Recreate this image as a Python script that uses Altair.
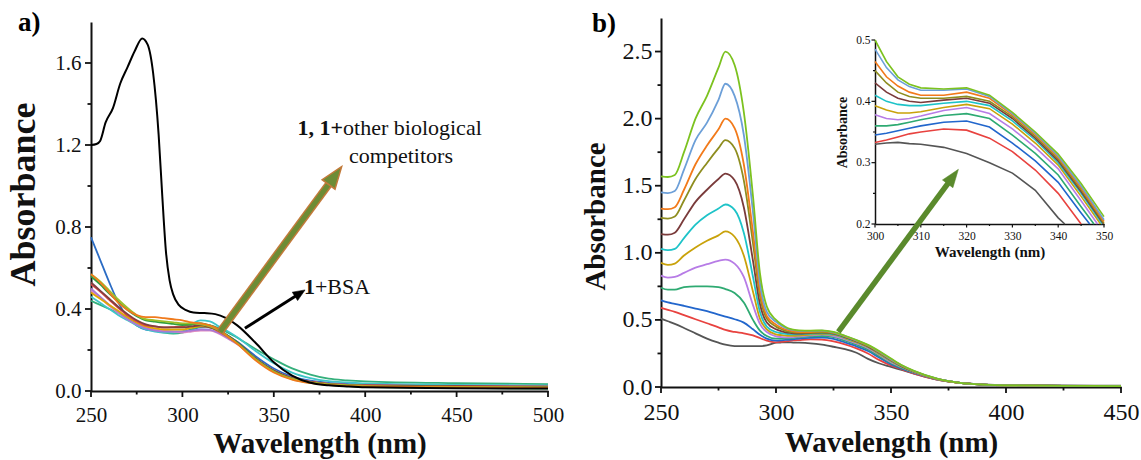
import math
import altair as alt
import pandas as pd

FONT = "Liberation Serif, Times New Roman, serif"
W, H = 1141, 460

# ---------------- panel a data ----------------
A_NM_BLACK = [250, 253, 255, 258, 262, 266, 270, 274, 278, 281, 284, 287, 289, 291, 293, 295, 298,
              302, 306, 312, 318, 324, 330, 340, 350, 360, 370, 380, 390, 400, 450, 500]
A_BLACK = [1.20, 1.205, 1.22, 1.31, 1.38, 1.50, 1.58, 1.66, 1.72, 1.69, 1.55, 1.25, 0.95, 0.68, 0.54, 0.47, 0.42,
           0.395, 0.383, 0.38, 0.375, 0.355, 0.32, 0.235, 0.14, 0.075, 0.04, 0.028, 0.022, 0.018, 0.014, 0.012]

A_NM = [250, 255, 260, 265, 270, 275, 280, 285, 290, 295, 300, 305, 310, 315, 320, 325, 330,
        340, 350, 360, 370, 380, 390, 400, 450, 500]
A_BLUE = [.75, .64, .53, .43, .36, .32, .30, .295, .29, .29, .29, .30, .31, .31, .295, .27, .24,
          .17, .11, .07, .05, .04, .035, .03, .025, .02]
A_TEAL = [.44, .42, .40, .38, .355, .33, .31, .295, .285, .28, .285, .30, .315, .32, .305, .285, .26,
          .205, .155, .11, .08, .06, .052, .047, .038, .034]
A_ORANGE = [.57, .53, .48, .43, .395, .37, .36, .36, .355, .35, .345, .335, .33, .32, .30, .265, .23,
            .15, .09, .055, .038, .03, .025, .022, .018, .015]
A_YELLOWGREEN = [.57, .535, .49, .445, .405, .37, .35, .345, .34, .335, .33, .33, .325, .315, .295, .265, .232,
                 .155, .095, .06, .042, .033, .028, .025, .02, .018]
A_BROWN = [.53, .49, .45, .41, .375, .345, .325, .315, .31, .31, .31, .315, .32, .31, .295, .268, .238,
           .16, .10, .063, .045, .035, .03, .027, .024, .02]
A_PURPLE = [.50, .46, .42, .385, .35, .325, .305, .295, .29, .29, .29, .295, .30, .298, .283, .258, .23,
            .158, .10, .064, .046, .036, .031, .028, .024, .02]
A_PINK = [.49, .455, .415, .38, .35, .325, .31, .30, .295, .29, .285, .29, .295, .295, .28, .255, .228,
          .155, .098, .063, .045, .035, .03, .027, .023, .02]
A_GOLD = [.48, .45, .42, .39, .36, .335, .315, .305, .30, .30, .30, .308, .315, .31, .29, .263, .233,
          .157, .098, .062, .044, .034, .029, .026, .022, .019]
A_GREEN = [.56, .52, .475, .435, .395, .365, .345, .338, .332, .327, .322, .325, .33, .32, .30, .268, .236,
           .156, .095, .058, .04, .03, .025, .02, .015, .012]
A_RED = [.52, .485, .445, .405, .37, .34, .32, .315, .31, .312, .315, .325, .33, .315, .29, .263, .233,
         .157, .098, .062, .044, .034, .03, .027, .024, .022]
A_CYAN = [.46, .43, .40, .37, .345, .32, .30, .29, .285, .285, .29, .325, .345, .34, .315, .29, .262,
          .195, .135, .09, .063, .048, .042, .037, .03, .027]

A_SERIES = ["blue", "teal", "cyan", "pink", "purple", "gold", "red", "brown", "green", "yellowgreen", "orange"]
A_ARRAYS = [A_BLUE, A_TEAL, A_CYAN, A_PINK, A_PURPLE, A_GOLD, A_RED, A_BROWN, A_GREEN, A_YELLOWGREEN, A_ORANGE]
A_COLORS = ["#2b6cc4", "#35b07c", "#3ec5c8", "#e08bc0", "#a678d6", "#e0a800", "#e04545", "#804040",
            "#2e9e3e", "#9cbf2a", "#f07a1c"]

# ---------------- panel b data ----------------
B_NM = [250, 253, 256, 260, 265, 270, 275, 278, 282, 286, 290, 293, 296,
        300, 302.5, 305, 307.5, 310, 315, 320, 325, 330, 335, 340, 345, 350,
        355, 360, 370, 380, 390, 400, 425, 450]
B_GRAY = [.51, .49, .47, .44, .40, .36, .33, .315, .305, .305, .305, .305, .31,
          .33, .332, .333, .331, .33, .325, .315, .30, .283, .255, .21, .175, .15,
          .125, .10, .055, .03, .02, .015, .012, .01]
B_RED = [.59, .575, .56, .535, .505, .475, .445, .425, .41, .40, .385, .365, .345,
         .333, .337, .342, .347, .35, .355, .353, .34, .318, .288, .25, .20, .16,
         .13, .10, .055, .03, .018, .012, .009, .007]
B_BLUE = [.645, .63, .62, .605, .585, .565, .54, .525, .505, .48, .43, .39, .36,
          .345, .348, .352, .356, .36, .366, .368, .358, .332, .303, .268, .218, .17,
          .135, .105, .057, .03, .018, .012, .009, .007]
B_GREEN = [.74, .725, .725, .745, .75, .75, .745, .73, .70, .63, .50, .42, .38,
           .36, .36, .362, .366, .37, .377, .38, .372, .345, .315, .28, .228, .178,
           .14, .108, .058, .031, .018, .012, .009, .007]
B_PURPLE = [.83, .815, .82, .85, .89, .915, .94, .95, .92, .82, .61, .47, .41,
            .378, .372, .37, .372, .376, .385, .39, .38, .355, .325, .29, .238, .185,
            .145, .11, .058, .031, .018, .012, .009, .007]
B_GOLD = [.925, .91, .92, .98, 1.04, 1.09, 1.13, 1.16, 1.12, .98, .71, .51, .43,
          .393, .386, .381, .381, .383, .39, .395, .388, .363, .332, .296, .245, .192,
          .148, .112, .059, .031, .018, .012, .009, .007]
B_CYAN = [1.03, 1.02, 1.03, 1.11, 1.21, 1.28, 1.33, 1.36, 1.32, 1.15, .82, .56, .45,
          .41, .40, .395, .393, .393, .397, .40, .393, .368, .337, .30, .25, .196,
          .15, .114, .06, .031, .018, .012, .009, .007]
B_BROWN = [1.14, 1.135, 1.15, 1.25, 1.38, 1.47, 1.55, 1.59, 1.54, 1.34, .94, .62, .48,
           .43, .415, .405, .40, .398, .402, .405, .397, .372, .34, .303, .253, .199,
           .152, .115, .06, .031, .018, .012, .009, .007]
B_OLIVE = [1.26, 1.255, 1.27, 1.39, 1.55, 1.67, 1.78, 1.84, 1.78, 1.54, 1.07, .68, .51,
           .45, .43, .415, .408, .405, .405, .408, .40, .375, .343, .306, .256, .201,
           .154, .116, .061, .031, .018, .012, .009, .007]
B_ORANGE = [1.33, 1.325, 1.34, 1.47, 1.66, 1.80, 1.92, 2.00, 1.93, 1.66, 1.15, .72, .53,
            .465, .44, .425, .415, .41, .41, .415, .405, .378, .346, .309, .259, .204,
            .156, .117, .061, .031, .018, .012, .009, .007]
B_LIGHTBLUE = [1.45, 1.445, 1.46, 1.62, 1.84, 1.97, 2.14, 2.26, 2.17, 1.88, 1.30, .78, .56,
               .485, .455, .435, .424, .418, .418, .42, .408, .38, .348, .311, .262, .207,
               .158, .118, .062, .031, .018, .012, .009, .007]
B_LIME = [1.57, 1.565, 1.58, 1.75, 2.00, 2.17, 2.38, 2.50, 2.40, 2.05, 1.42, .85, .60,
          .50, .465, .44, .428, .422, .42, .422, .41, .382, .35, .314, .266, .212,
          .16, .12, .062, .031, .018, .012, .009, .007]

B_SERIES = ["gray", "red", "blue", "green", "purple", "gold", "cyan", "brown", "olive", "orange",
            "lightblue", "lime"]
B_ARRAYS = [B_GRAY, B_RED, B_BLUE, B_GREEN, B_PURPLE, B_GOLD, B_CYAN, B_BROWN, B_OLIVE, B_ORANGE,
            B_LIGHTBLUE, B_LIME]
B_COLORS = ["#555555", "#e8423f", "#2266cc", "#2eaa72", "#b77ce6", "#c9a20a", "#1ec3c8", "#7a3b3b",
            "#8e8d1f", "#f27a1a", "#6c9fd8", "#7cc21f"]

# tick values
A_X_MAJOR = [250, 300, 350, 400, 450, 500]
A_X_MINOR = [275, 325, 375, 425, 475]
A_Y_MAJOR = [0.0, 0.4, 0.8, 1.2, 1.6]
A_Y_MINOR = [0.2, 0.6, 1.0, 1.4]
B_X_MAJOR = [250, 300, 350, 400, 450]
B_X_MINOR = [275, 325, 375, 425]
B_Y_MAJOR = [0.0, 0.5, 1.0, 1.5, 2.0, 2.5]
B_Y_MINOR = [0.25, 0.75, 1.25, 1.75, 2.25]
I_X_MAJOR = [300, 310, 320, 330, 340, 350]
I_X_MINOR = [305, 315, 325, 335, 345]
I_Y_MAJOR = [0.2, 0.3, 0.4, 0.5]
I_Y_MINOR = [0.25, 0.35, 0.45]

# annotation anchors (data coordinates of their panel)
ARROW_A = [(320.6, 0.289), (387.1, 1.094)]
ARROW_BSA = [(334.2, 0.306), (367.1, 0.493)]
ARROW_B = [(327.1, 0.411), (379.3, 1.622)]
TXT_LINE1 = (387.9, 1.283)
TXT_LINE2 = (419.6, 1.146)
TXT_BSA = (372.5, 0.507)

# ---------------- frames (pixel layout) ----------------
AX = {"domain": [250, 500], "range": [91, 548]}
AY = {"domain": [0, 1.8], "range": [391, 22]}
BX = {"domain": [250, 450], "range": [661, 1121]}
BY = {"domain": [0, 2.75], "range": [387, 18]}
IX = {"domain": [300, 350], "range": [875, 1104]}
IY = {"domain": [0.2, 0.5], "range": [224, 40]}


def sc(p):
    return alt.Scale(domain=p["domain"], range=p["range"], nice=False, zero=False)


def to_px(p, v):
    d0, d1 = p["domain"]
    r0, r1 = p["range"]
    return r0 + (v - d0) / (d1 - d0) * (r1 - r0)


def from_px(p, px):
    d0, d1 = p["domain"]
    r0, r1 = p["range"]
    return d0 + (px - r0) / (r1 - r0) * (d1 - d0)


def major_axis(orient, offset, values, fmt, lsize, title, tsize, lpad, tpad, dw=2, **extra):
    return alt.Axis(
        orient=orient, offset=offset, values=values, title=title, grid=False, format=fmt,
        ticks=False, labelFont=FONT, labelFontSize=lsize,
        labelColor="#111", labelPadding=lpad, labelOverlap=False, labelFlush=False,
        titleFont=FONT, titleFontSize=tsize, titleFontWeight="bold", titleColor="#111",
        titlePadding=tpad, domainColor="#111", domainWidth=dw, **extra
    )


def tick_layer(fx, fy, xmaj, xmin, ymaj, ymin, lmaj, lmin, width):
    """Tick marks drawn outward from the frame's bottom and left edges."""
    bottom = fy["range"][0]
    left = fx["range"][0]
    rows = []
    for vals, ln in ((xmaj, lmaj), (xmin, lmin)):
        for v in vals:
            rows.append({"x": v, "x2": v, "y": from_px(fy, bottom), "y2": from_px(fy, bottom + ln)})
    for vals, ln in ((ymaj, lmaj), (ymin, lmin)):
        for v in vals:
            rows.append({"x": from_px(fx, left), "x2": from_px(fx, left - ln), "y": v, "y2": v})
    return alt.Chart(pd.DataFrame(rows)).mark_rule(color="#111", strokeWidth=width).encode(
        x=alt.X("x:Q", scale=sc(fx), axis=None), y=alt.Y("y:Q", scale=sc(fy), axis=None),
        x2="x2:Q", y2="y2:Q")


def long_df(nm, names, arrays):
    rows = []
    for name, vals in zip(names, arrays):
        for x, v in zip(nm, vals):
            rows.append({"nm": x, "A": v, "series": name})
    return pd.DataFrame(rows)


def inset_df():
    lo = IY["domain"][0]
    rows = []
    for name, vals in zip(B_SERIES, B_ARRAYS):
        pts = [(x, v) for x, v in zip(B_NM, vals) if IX["domain"][0] <= x <= IX["domain"][1]]
        for i, (x, v) in enumerate(pts):
            if v >= lo:
                rows.append({"nm": x, "A": v, "series": name})
            else:
                x0, v0 = pts[i - 1]
                t = (v0 - lo) / (v0 - v)
                rows.append({"nm": x0 + t * (x - x0), "A": lo, "series": name})
                break
    return pd.DataFrame(rows)


def arrow_layers(arrow, fx, fy, head_len, head_w, shaft_styles, head_fill, head_stroke, head_sw):
    (x0, y0), (x1, y1) = arrow
    px0, py0 = to_px(fx, x0), to_px(fy, y0)
    px1, py1 = to_px(fx, x1), to_px(fy, y1)
    dx, dy = px1 - px0, py1 - py0
    ln = math.hypot(dx, dy)
    ux, uy = dx / ln, dy / ln
    ex, ey = px1 - ux * head_len * 0.85, py1 - uy * head_len * 0.85
    shaft = pd.DataFrame([{"x": x0, "y": y0, "x2": from_px(fx, ex), "y2": from_px(fy, ey)}])
    layers = []
    for color, width in shaft_styles:
        layers.append(alt.Chart(shaft).mark_rule(color=color, strokeWidth=width).encode(
            x=alt.X("x:Q", scale=sc(fx), axis=None), y=alt.Y("y:Q", scale=sc(fy), axis=None),
            x2="x2:Q", y2="y2:Q"))
    angle = math.degrees(math.atan2(dx, -dy)) % 360
    r = head_len / head_w
    path = f"M0,0L-0.5,{r:.3f}L0.5,{r:.3f}Z"
    tip = pd.DataFrame([{"x": x1, "y": y1}])
    layers.append(alt.Chart(tip).mark_point(
        shape=path, size=(2 * head_w) ** 2, filled=True, fill=head_fill, stroke=head_stroke,
        strokeWidth=head_sw, opacity=1).encode(
        x=alt.X("x:Q", scale=sc(fx), axis=None), y=alt.Y("y:Q", scale=sc(fy), axis=None),
        angle=alt.value(angle)))
    return layers


def text_layer(anchor, label, fx, fy, weight, align, size=22):
    df = pd.DataFrame([{"x": anchor[0], "y": anchor[1], "t": label}])
    return alt.Chart(df).mark_text(font=FONT, fontSize=size, fontWeight=weight, align=align,
                                   baseline="middle", color="#111").encode(
        x=alt.X("x:Q", scale=sc(fx), axis=None), y=alt.Y("y:Q", scale=sc(fy), axis=None), text="t:N")


# ---------------- panel a ----------------
a_df = long_df(A_NM, A_SERIES, A_ARRAYS)
axis_xa = major_axis("bottom", AY["range"][0] - H, A_X_MAJOR, ".0f", 21, "Wavelength (nm)", 29, 13, 4)
axis_ya = major_axis("left", -AX["range"][0], A_Y_MAJOR, ".1f", 21, "Absorbance", 36, 10, 12, titleY=194)

a_lines = alt.Chart(a_df).mark_line(strokeWidth=1.8, interpolate="monotone").encode(
    x=alt.X("nm:Q", scale=sc(AX), axis=axis_xa),
    y=alt.Y("A:Q", scale=sc(AY), axis=axis_ya),
    color=alt.Color("series:N", scale=alt.Scale(domain=A_SERIES, range=A_COLORS), legend=None),
)
a_ticks = tick_layer(AX, AY, A_X_MAJOR, A_X_MINOR, A_Y_MAJOR, A_Y_MINOR, 6, 3.5, 1.8)
a_black = alt.Chart(pd.DataFrame({"nm": A_NM_BLACK, "A": A_BLACK})).mark_line(
    strokeWidth=2, color="#000000", interpolate="monotone").encode(
    x=alt.X("nm:Q", scale=sc(AX), axis=None), y=alt.Y("A:Q", scale=sc(AY), axis=None))

arrow_a = arrow_layers(ARROW_A, AX, AY, 22, 16, [("#c27a3a", 8), ("#6d8c35", 5)],
                       "#6d8c35", "#c27a3a", 1.5)
arrow_bsa = arrow_layers(ARROW_BSA, AX, AY, 12, 10, [("#000000", 3)], "#000000", "#000000", 0.5)

texts_a = [
    text_layer(TXT_LINE1, "1, 1+", AX, AY, "bold", "right"),
    text_layer(TXT_LINE1, "other biological", AX, AY, "normal", "left"),
    text_layer(TXT_LINE2, "competitors", AX, AY, "normal", "center"),
    text_layer(TXT_BSA, "1", AX, AY, "bold", "right"),
    text_layer(TXT_BSA, "+BSA", AX, AY, "normal", "left"),
]

# ---------------- panel b ----------------
b_df = long_df(B_NM, B_SERIES, B_ARRAYS)
axis_xb = major_axis("bottom", BY["range"][0] - H, B_X_MAJOR, ".0f", 24, "Wavelength (nm)", 29, 13, 4)
axis_yb = major_axis("left", -BX["range"][0], B_Y_MAJOR, ".1f", 24, "Absorbance", 29, 9, 12, titleY=216)

b_lines = alt.Chart(b_df).mark_line(strokeWidth=1.8, interpolate="monotone").encode(
    x=alt.X("nm:Q", scale=sc(BX), axis=axis_xb),
    y=alt.Y("A:Q", scale=sc(BY), axis=axis_yb),
    color=alt.Color("series:N", scale=alt.Scale(domain=B_SERIES, range=B_COLORS), legend=None),
)
b_ticks = tick_layer(BX, BY, B_X_MAJOR, B_X_MINOR, B_Y_MAJOR, B_Y_MINOR, 6, 3.5, 1.8)

i_df = inset_df()
axis_xi = major_axis("bottom", IY["range"][0] - H, I_X_MAJOR, ".0f", 11.5, "Wavelength (nm)", 15, 6, 3, dw=1.5)
axis_yi = major_axis("left", -IX["range"][0], I_Y_MAJOR, ".1f", 11.5, "Absorbance", 14, 5, 6, dw=1.5)
inset = alt.Chart(i_df).mark_line(strokeWidth=1.6).encode(
    x=alt.X("nm:Q", scale=sc(IX), axis=axis_xi),
    y=alt.Y("A:Q", scale=sc(IY), axis=axis_yi),
    color=alt.Color("series:N", scale=alt.Scale(domain=B_SERIES, range=B_COLORS), legend=None),
)
i_ticks = tick_layer(IX, IY, I_X_MAJOR, I_X_MINOR, I_Y_MAJOR, I_Y_MINOR, 3.5, 2, 1.2)

arrow_b = arrow_layers(ARROW_B, BX, BY, 18, 13, [("#5a8a2c", 5.5)], "#5a8a2c", "#5a8a2c", 0.5)

# panel letters
letter_a = alt.Chart(pd.DataFrame([{"t": "a)"}])).mark_text(
    font=FONT, fontSize=27, fontWeight="bold", align="left", baseline="alphabetic", color="#000").encode(
    x=alt.value(18), y=alt.value(31), text="t:N")
letter_b = alt.Chart(pd.DataFrame([{"t": "b)"}])).mark_text(
    font=FONT, fontSize=27, fontWeight="bold", align="left", baseline="alphabetic", color="#000").encode(
    x=alt.value(592), y=alt.value(32), text="t:N")

layers = ([a_lines, a_ticks, a_black] + arrow_a + arrow_bsa + texts_a +
          [b_lines, b_ticks, inset, i_ticks] + arrow_b + [letter_a, letter_b])

chart = alt.layer(*layers).resolve_scale(
    x="independent", y="independent", color="independent"
).resolve_axis(x="independent", y="independent").properties(
    width=W, height=H, autosize=alt.AutoSizeParams(type="none"), padding=0, background="white"
).configure_view(strokeWidth=0)

chart.save("out.html", embed_options={"renderer": "svg", "actions": False})
